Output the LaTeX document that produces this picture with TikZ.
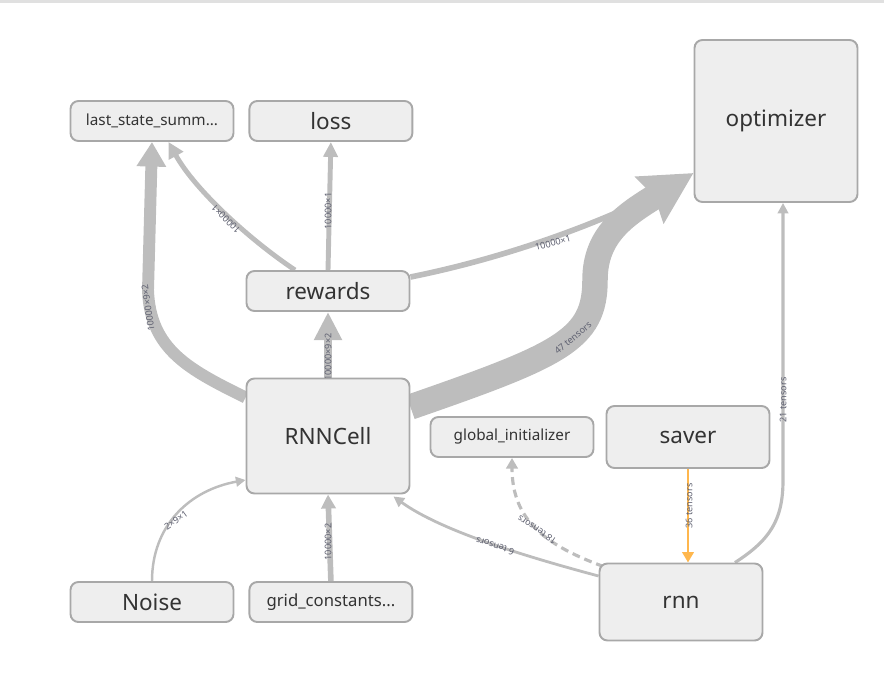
\documentclass[tikz,border=0pt]{standalone}
\usepackage{fontspec}
\setmainfont{Noto Sans}
\usepackage{xcolor}
\definecolor{GraphFill}{HTML}{EEEEEE}
\definecolor{GraphBorder}{HTML}{A8A8A8}
\definecolor{GraphEdge}{HTML}{BDBDBD}
\definecolor{GraphText}{HTML}{333333}
\definecolor{GraphLabel}{HTML}{5E6070}
\definecolor{GraphOrange}{HTML}{FFB74D}
\usepackage{tikz}
\usetikzlibrary{positioning,arrows.meta,calc}
\pgfdeclarelayer{background}
\pgfsetlayers{background,main}
\tikzset{
  opbox/.style={draw=GraphBorder,fill=GraphFill,line width=1.1pt,rounded corners=4.5pt,inner sep=0pt,minimum width=3.26cm,minimum height=0.8cm,text=GraphText,font=\fontsize{12.8}{15}\selectfont},
  opsmall/.style={opbox,font=\fontsize{8.7}{10}\selectfont},
  tflow/.style={draw=GraphEdge,line cap=butt},
  tlabel/.style={font=\fontsize{5.2}{6}\selectfont,text=GraphLabel,inner sep=0pt}
}
\begin{document}
\begin{tikzpicture}[x=0.02cm,y=-0.02cm,node distance=0.28cm]
  \useasboundingbox (0,0) rectangle (884,672);
  \fill[black!12] (0,0) rectangle (884,3);
  % ops
  \node[opsmall] (laststate) at (152,121) {last\_state\_summ...};
  \node[opbox,right=of laststate] (loss) {loss};
  \node[opbox,minimum height=3.24cm] (optimizer) at (776,121) {optimizer};
  \node[opbox] (rewards) at (328,291) {rewards};
  \node[opbox,minimum height=2.3cm] (rnncell) at (328,436) {RNNCell};
  \node[opsmall] (globalinit) at (512,437) {global\_initializer};
  \node[opbox,minimum height=1.24cm] (saver) at (688,437) {saver};
  \node[opbox] (noise) at (152,602) {Noise};
  \node[opsmall,right=of noise,font=\fontsize{9.5}{11}\selectfont] (gridconst) {grid\_constants...};
  \node[opbox,minimum height=1.54cm] (rnn) at (681,602) {rnn};
  % dataflow, kept under the ops
  \begin{pgfonlayer}{background}
  \draw[tflow,line width=3.2pt] ($(rewards.east)+(0,-14)$) .. controls (520,255) and (620,215) .. (682,181);
  \draw[tflow,line width=14.5pt,-{Stealth[length=29pt,width=30pt,inset=3pt]}] ($(rnncell.east)+(0,-29)$) .. controls (560,355) and (595,340) .. (595,280) .. controls (595,235) and (625,215) .. ($(optimizer.west)+(0,52)$);
  \draw[tflow,line width=6.8pt,-{Triangle[length=14pt,width=16pt]}] (rnncell.155) .. controls (190,370) and (150,350) .. (148,290) -- (laststate.south);
  \draw[tflow,line width=2.8pt,-{Triangle[length=9pt,width=9pt]}] ($(rewards.north west)!0.3!(rewards.north east)$) .. controls (250,240) and (195,190) .. ($(laststate.south)!0.2!(laststate.south east)$);
  \draw[tflow,line width=2.8pt,-{Triangle[length=8.5pt,width=8pt]}] (rewards.north) -- (loss.south);
  \draw[tflow,line width=4pt,-{Triangle[length=16pt,width=15pt]}] (rnncell.north) -- (rewards.south);
  \draw[tflow,line width=3.2pt,-{Triangle[length=8pt,width=8pt]}] (gridconst.north) -- (rnncell.south);
  \draw[tflow,line width=1.4pt,-{Triangle[length=5.5pt,width=5.5pt]}] (noise.north) .. controls (152,525) and (190,490) .. ($(rnncell.west)+(0,44)$);
  \draw[tflow,line width=1.6pt,-{Triangle[length=6pt,width=6pt]}] ($(rnn.west)+(0,-26)$) .. controls (520,555) and (440,530) .. ($(rnncell.south east)+(-17,2)$);
  \draw[tflow,line width=1.8pt,dash pattern=on 4.5pt off 2.8pt,-{Triangle[length=6pt,width=6.5pt]}] ($(rnn.north west)+(5,4)$) .. controls (545,545) and (512,520) .. (globalinit.south);
  \draw[tflow,draw=GraphOrange,line width=1.6pt,-{Triangle[length=6pt,width=6.5pt]}] (saver.south) -- (saver.south |- rnn.north);
  \draw[tflow,line width=1.8pt,-{Triangle[length=6pt,width=6pt]}] ($(rnn.north)+(54,0)$) .. controls (770,540) and (783,520) .. (783,480) -- ($(optimizer.south)+(7,0)$);
  % tensor shapes
  \node[tlabel,rotate=98] (lblcellsum) at (148,308) {10000×9×2};
  \node[tlabel,rotate=135] (lblrewsum) at (226,219) {10000×1};
  \node[tlabel,rotate=90] (lblrewloss) at (328,211) {10000×1};
  \node[tlabel,rotate=90] (lblcellrew) at (328,357) {10000×9×2};
  \node[tlabel,rotate=15] (lblrewopt) at (553,243) {10000×1};
  \node[tlabel,rotate=40] (lblcellopt) at (573,338) {47 tensors};
  \node[tlabel,rotate=36] (lblnoise) at (176,520) {2×9×1};
  \node[tlabel,rotate=90] (lblgrid) at (328,542) {10000×2};
  \node[tlabel,rotate=162] (lblrnncell) at (495,546) {6 tensors};
  \node[tlabel,rotate=146] (lblrnninit) at (537,530) {18 tensors};
  \node[tlabel,rotate=90] (lblsaver) at (689,506) {36 tensors};
  \node[tlabel,rotate=90] (lblrnnopt) at (783,400) {21 tensors};
  \end{pgfonlayer}
\end{tikzpicture}
\end{document}
